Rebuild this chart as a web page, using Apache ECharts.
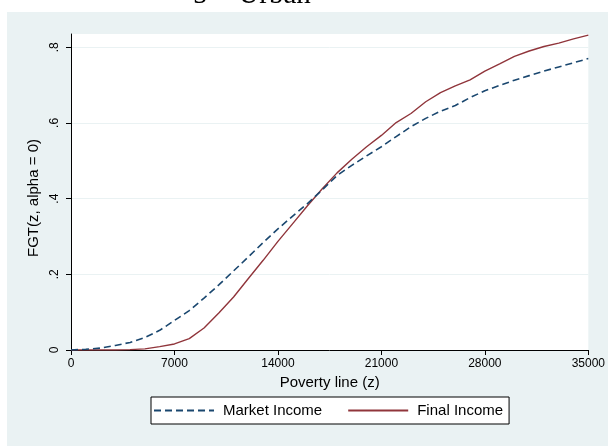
<!DOCTYPE html>
<html>
<head>
<meta charset="utf-8">
<script src="https://cdn.jsdelivr.net/npm/echarts@6/dist/echarts.min.js"></script>
<style>html,body{margin:0;padding:0;background:#fff;}#c{width:608px;height:446px;}</style>
</head>
<body>
<div id="c"></div>
<script>
const povertyLine = [0,1000,2000,3000,4000,5000,6000,7000,8000,9000,10000,11000,12000,13000,14000,15000,16000,17000,18000,19000,20000,21000,22000,23000,24000,25000,26000,27000,28000,29000,30000,31000,32000,33000,34000,35000];
const marketIncome = [0,0.002,0.005,0.012,0.02,0.033,0.052,0.078,0.104,0.137,0.172,0.209,0.246,0.284,0.32,0.354,0.387,0.423,0.461,0.488,0.513,0.537,0.564,0.59,0.612,0.631,0.646,0.667,0.685,0.699,0.713,0.725,0.737,0.748,0.759,0.77];
const finalIncome = [0,0,0,0,0.001,0.003,0.009,0.016,0.03,0.058,0.098,0.14,0.189,0.237,0.287,0.334,0.381,0.426,0.468,0.504,0.537,0.567,0.601,0.625,0.656,0.68,0.698,0.714,0.737,0.756,0.776,0.79,0.802,0.811,0.822,0.832];
const yTicks = [0,0.2,0.4,0.6,0.8];
const xTicks = [0,7000,14000,21000,28000,35000];
const titleText = '5 \u2212 Urban';

const chart = echarts.init(document.getElementById('c'), null, {renderer:'canvas'});
const pair = (xs, ys) => xs.map((x,i)=>[x, ys[i]]);
const sans = 'Liberation Sans';
chart.setOption({
  animation:false,
  backgroundColor:'#ffffff',
  graphic:[
    {type:'rect', shape:{x:7, y:12, width:601, height:434}, style:{fill:'#EAF2F3'}, z:-10, silent:true},
    {type:'text', x:193, y:-4.5, style:{text:titleText, font:'29px "Liberation Serif", serif', fill:'#000', textVerticalAlign:'middle'}, z:-9}
  ],
  grid:{left:71, right:16, top:34, bottom:96, show:true, backgroundColor:'#ffffff', borderWidth:0},
  legend:{
    left:151, top:397, orient:'horizontal',
    backgroundColor:'#ffffff', borderColor:'#000', borderWidth:1, borderRadius:0,
    padding:[6,6,6,2], itemWidth:60, itemHeight:12, itemGap:25,
    itemStyle:{opacity:0},
    textStyle:{fontFamily:sans, fontSize:15, color:'#000', padding:[0,0,0,4]},
    data:['Market Income','Final Income']
  },
  xAxis:{
    type:'value', min:0, max:35000, interval:7000,
    name:'Poverty line (z)', nameLocation:'middle', nameGap:22,
    nameTextStyle:{fontFamily:sans, fontSize:15, color:'#000'},
    axisLine:{show:true, onZero:false, lineStyle:{color:'#000', width:1}},
    axisTick:{show:true, length:5, lineStyle:{color:'#000'}},
    axisLabel:{fontFamily:sans, fontSize:12, color:'#000', margin:8, formatter:v=>String(v), customValues:xTicks},
    splitLine:{show:false}
  },
  yAxis:{
    type:'value', min:0, max:0.835, interval:0.2,
    name:'FGT(z, alpha = 0)', nameLocation:'middle', nameGap:26,
    nameTextStyle:{fontFamily:sans, fontSize:15, color:'#000', padding:[0,12,0,0]},
    axisLine:{show:true, onZero:false, lineStyle:{color:'#000', width:1}},
    axisTick:{show:true, length:5, lineStyle:{color:'#000'}, customValues:yTicks},
    axisLabel:{fontFamily:sans, fontSize:12, color:'#000', rotate:90, margin:10, customValues:yTicks,
      formatter:v=>{ if (Math.abs(v) < 1e-9) return '0'; return String(Math.round(v*10)/10).replace(/^0/, ''); }},
    splitLine:{show:true, lineStyle:{color:'#EAF2F3', width:1}}
  },
  series:[
    {name:'Market Income', type:'line', data:pair(povertyLine, marketIncome), showSymbol:false, symbol:'none',
     lineStyle:{color:'#1a476f', width:1.6, type:[7,4]}, itemStyle:{color:'#1a476f'}, z:3},
    {name:'Final Income', type:'line', data:pair(povertyLine, finalIncome), showSymbol:false, symbol:'none',
     lineStyle:{color:'#90353b', width:1.4}, itemStyle:{color:'#90353b'}, z:2}
  ]
});
</script>
</body>
</html>
